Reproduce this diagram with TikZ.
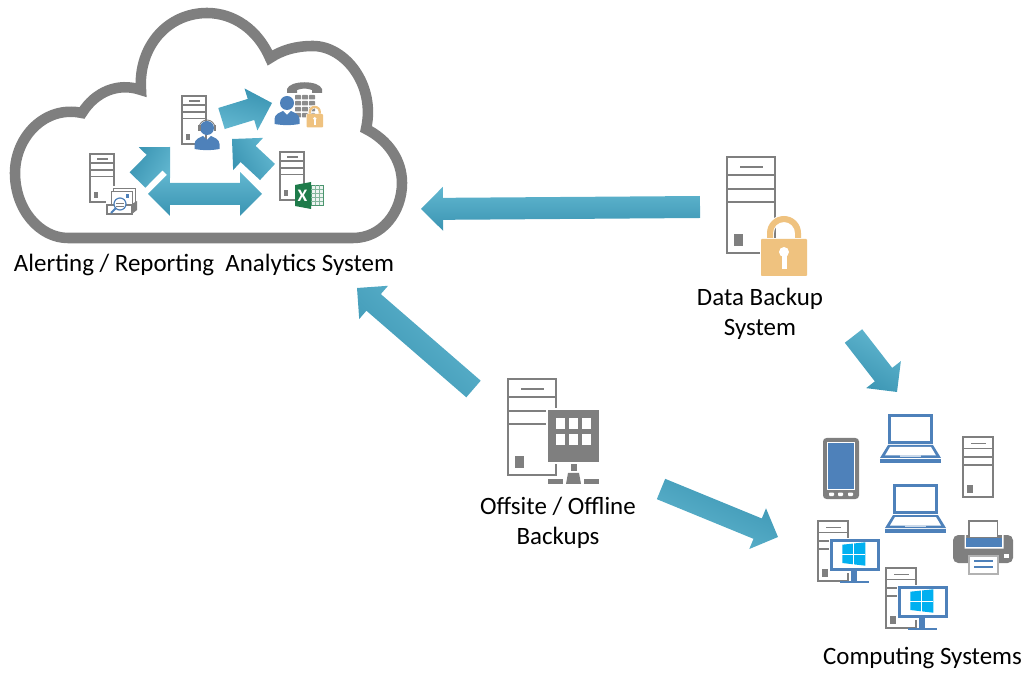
\documentclass[tikz,border=0pt]{standalone}
\usepackage{fontspec}
\setmainfont{Carlito}
\usetikzlibrary{calc}
\definecolor{cloudgrey}{HTML}{7F7F7F}
\definecolor{iconblue}{HTML}{4E81BA}
\definecolor{lockgold}{HTML}{EFC27F}
\definecolor{xlgreen}{HTML}{1E7B4A}
\definecolor{winblue}{HTML}{00B0F0}
\definecolor{arrowlight}{HTML}{62B7D0}
\definecolor{arrowdark}{HTML}{3A94B2}
\tikzset{
  label text/.style={font=\fontsize{14.2}{17}\selectfont,align=center,text=black},
  flowarrow/.style={top color=arrowlight,bottom color=arrowdark},
  pics/server/.style={code={
    \draw [cloudgrey,fill=white] (0,0) rectangle (48,-96);
    \draw [cloudgrey] (0,-18) -- (48,-18);
    \draw [cloudgrey] (0,-32) -- (48,-32);
    \draw [cloudgrey] (0,-45) -- (48,-45);
    \fill [cloudgrey] (13,-9) rectangle (36,-11.5);
    \fill [cloudgrey] (7,-77) rectangle (16,-89);
  }},
  pics/padlock/.style={code={
    \path [preaction={draw=white},fill=lockgold] (6,0) -- (6,6) arc (180:0:17) -- (40,0) -- (34,0) -- (34,6) arc (0:180:11) -- (12,0) -- cycle;
    \path [preaction={draw=white},fill=lockgold,rounded corners=0.5pt] (0,0) rectangle (46,-37);
    \fill [white] (23,-13) circle (5);
    \fill [white] (20.5,-13) rectangle (25.5,-30);
  }},
  pics/person/.style={code={
    \fill [iconblue] (0,0) circle (7);
    \fill [iconblue] (-12.5,-21) -- (-12.5,-16) .. controls (-12.5,-11) and (-7,-9.5) .. (-4,-8) -- (0,-12) -- (4,-8) .. controls (7,-9.5) and (12.5,-11) .. (12.5,-16) -- (12.5,-21) .. controls (4,-22.5) and (-4,-22.5) .. (-12.5,-21) -- cycle;
  }},
  pics/laptop/.style={code={
    \fill [iconblue] (0,0) rectangle (45,-30);
    \fill [white] (3,-3) rectangle (42,-27);
    \fill [iconblue] (0,-31) -- (45,-31) -- (53,-44) -- (-8,-44) -- cycle;
    \fill [white] (2,-33) -- (43,-33) -- (48,-41.5) -- (-3,-41.5) -- cycle;
    \fill [iconblue] (-8,-45) rectangle (53,-49);
    \fill [iconblue!30] (12,-41) rectangle (33,-42.7);
  }},
  pics/desktop/.style={code={
    \pic [scale=0.625] at (0,0) {server};
    \fill [white] (11,-17) rectangle (63,-52);
    \fill [iconblue] (12,-18) rectangle (62,-50);
    \fill [white] (14.6,-20.6) rectangle (59.4,-47.4);
    \fill [iconblue] (33,-50) rectangle (39,-60);
    \fill [iconblue] (22,-59.5) rectangle (51,-61.5);
    \fill [winblue] (24.3,-23.7) -- (47.3,-21.3) -- (47.3,-44.7) -- (24.3,-42) -- cycle;
    \draw [white,line width=0.4pt] (35.7,-22) -- (35.7,-44);
    \draw [white,line width=0.4pt] (24.3,-33) -- (47.3,-33);
  }}
}
\newcommand{\blockarrow}[3][0]{
  \coordinate (neck) at ($(#3)!0.44cm!(#2)$);
  \shade [flowarrow,shading angle=#1] ($(#2)!0.22cm!90:(#3)$) -- ($(neck)!0.22cm!-90:(#2)$) -- ($(neck)!0.44cm!-90:(#2)$) -- (#3) -- ($(neck)!0.44cm!90:(#2)$) -- ($(neck)!0.22cm!90:(#2)$) -- ($(#2)!0.22cm!-90:(#3)$) -- cycle;
}
\begin{document}
\begin{tikzpicture}[x=0.02cm,y=0.02cm]
\tikzstyle{every node}+=[inner sep=0pt]
\useasboundingbox (0,0) rectangle (1028,-675);
\draw [cloudgrey,line width=6pt] (68,-238) -- (353,-238) .. controls (382,-238) and (402,-212) .. (402,-183) .. controls (402,-160) and (388,-140) .. (366,-129) .. controls (376,-85) and (345,-46) .. (313,-46) .. controls (296,-46) and (282,-50) .. (270,-58) .. controls (258,-30) and (234,-13) .. (207,-13) .. controls (168,-13) and (138,-46) .. (141,-90) .. controls (118,-82) and (95,-92) .. (82,-113) .. controls (45,-105) and (15,-137) .. (15,-173) .. controls (15,-210) and (40,-238) .. (68,-238) -- cycle;
\pic [scale=0.5,line width=0.7pt] at (90,-154) {server};
\pic [scale=0.5,line width=0.7pt] at (182,-96) {server};
\pic [scale=0.5,line width=0.7pt] at (280,-152) {server};
\pic [scale=1,line width=1.1pt] at (727,-157) {server};
\pic [scale=1,line width=1.1pt] at (508,-379) {server};
\pic [scale=0.625,line width=0.8pt] at (963,-437) {server};
\pic [line width=1.1pt] at (761,-239) {padlock};
\fill [white] (546,-408) rectangle (601,-464);
\fill [cloudgrey] (548,-410) rectangle (599,-462);
\foreach \x in {556,569,582}
  \foreach \y in {-418,-434}
    \fill [white] (\x,\y) rectangle (\x+9,\y-11);
\fill [cloudgrey] (571,-464) rectangle (577,-471);
\fill [cloudgrey] (568,-473) -- (579,-473) -- (581,-484) -- (566,-484) -- cycle;
\fill [cloudgrey] (548,-479) rectangle (563,-484);
\fill [cloudgrey] (584,-479) rectangle (599,-484);
\fill [white] (106,-186) rectangle (137,-215);
\draw [cloudgrey,fill=white,line width=0.5pt] (113,-188) rectangle (135,-205);
\draw [cloudgrey,fill=white,line width=0.5pt] (111,-191) rectangle (132,-207);
\fill [iconblue] (125.5,-194) rectangle (128.5,-198);
\draw [cloudgrey,fill=white,line width=0.7pt] (107,-205) rectangle (132,-214);
\fill [cloudgrey] (132,-204) -- (137,-201) -- (137,-210) -- (132,-214) -- cycle;
\draw [iconblue,fill=white,line width=0.7pt] (120,-204) circle (6);
\draw [cloudgrey,line width=0.4pt] (116,-203) -- (124,-203);
\draw [cloudgrey,line width=0.4pt] (116,-206) -- (124,-206);
\draw [iconblue,line width=1.1pt] (115.5,-208.5) -- (111,-213);
\pic at (207,-128) {person};
\draw [cloudgrey,line width=0.5pt] (199,-128) arc (180:0:8);
\fill [cloudgrey] (198,-131) rectangle (200.5,-125);
\fill [cloudgrey] (213.5,-131) rectangle (216,-125);
\fill [cloudgrey] (287,-93) -- (287,-89) .. controls (290,-80) and (319,-80) .. (322,-89) -- (322,-93) -- (312,-93) -- (312,-90) .. controls (305,-88) and (304,-88) .. (297,-90) -- (297,-93) -- cycle;
\foreach \x in {295,302,309}
  \foreach \y in {-95,-101,-107,-113}
    \fill [cloudgrey!90,rounded corners=0.4pt] (\x,\y) rectangle (\x+6,\y-4.5);
\pic at (287,-103) {person};
\pic [scale=0.36,line width=0.5pt] at (306.5,-114) {padlock};
\fill [xlgreen] (295,-185) -- (311,-182) -- (311,-209) -- (295,-206) -- cycle;
\draw [xlgreen!80,fill=xlgreen!8,line width=0.5pt] (311,-185.5) rectangle (323,-205.5);
\foreach \y in {-189.5,-193.5,-197.5,-201.5}
  \draw [xlgreen!55,line width=0.3pt] (311,\y) -- (323,\y);
\foreach \x in {315,319}
  \draw [xlgreen!55,line width=0.3pt] (\x,-185.5) -- (\x,-205.5);
\node [text=white,font=\fontsize{10}{10}\selectfont\bfseries] (excelmark) at (302.5,-195.5) {X};
\fill [cloudgrey,rounded corners=2pt] (823,-438) rectangle (859,-499);
\fill [white] (827,-442) rectangle (855,-490);
\fill [iconblue] (828,-443) rectangle (854,-489);
\foreach \x in {829,838,848}
  \fill [white,rounded corners=0.5pt] (\x,-492.5) rectangle (\x+5,-496);
\pic at (888,-414) {laptop};
\pic at (893,-484) {laptop};
\pic [line width=0.8pt] at (818,-521) {desktop};
\pic [line width=0.8pt] at (886,-568) {desktop};
\fill [cloudgrey,rounded corners=3pt] (953,-535) rectangle (1013,-563);
\draw [cloudgrey,fill=white,line width=1pt] (969,-521) rectangle (997.5,-538);
\fill [white] (964.5,-535) -- (966,-535) -- (966,-538) -- (1002,-538) -- (1002,-535) -- (1003.5,-535) -- (1003.5,-548.5) -- (964.5,-548.5) -- cycle;
\fill [iconblue] (966,-537.5) rectangle (1002,-547);
\fill [white] (1004,-554) rectangle (1009,-558);
\draw [cloudgrey!60,fill=white,line width=0.6pt] (969,-556) rectangle (998,-574);
\fill [iconblue] (974,-560) rectangle (993,-562);
\fill [iconblue] (974,-566) rectangle (993,-568);
\node [label text] (alerting) at (204,-265) {Alerting / Reporting\ \ Analytics System};
\node [label text] (backup) at (760,-314) {Data Backup\\System};
\node [label text] (offsite) at (558,-523) {Offsite / Offline\\Backups};
\node [label text] (computing) at (922.5,-658) {Computing Systems};
\coordinate (backuptail) at (700,-207);
\coordinate (cloudtip) at (421,-209);
\coordinate (offsitetail) at (473.5,-389);
\coordinate (alerttip) at (357,-288);
\coordinate (backupout) at (853.5,-336);
\coordinate (computingtip) at (897,-392);
\coordinate (offsiteout) at (661,-489);
\coordinate (computingin) at (778,-537);
\coordinate (agenttail) at (221.5,-118.5);
\coordinate (phonetip) at (272,-103);
\coordinate (filetail) at (137.5,-180);
\coordinate (agenttip) at (170,-147);
\coordinate (exceltail) at (267.5,-172);
\coordinate (agentright) at (232,-139);
\coordinate (linkmid) at (205,-194);
\coordinate (linkleft) at (148,-194);
\coordinate (linkright) at (262,-194);
\blockarrow{backuptail}{cloudtip}
\blockarrow[-45]{offsitetail}{alerttip}
\blockarrow[-30]{backupout}{computingtip}
\blockarrow[155]{offsiteout}{computingin}
\blockarrow[165]{agenttail}{phonetip}
\blockarrow[-120]{filetail}{agenttip}
\blockarrow[-60]{exceltail}{agentright}
\blockarrow{linkmid}{linkleft}
\blockarrow{linkmid}{linkright}
\end{tikzpicture}
\end{document}
